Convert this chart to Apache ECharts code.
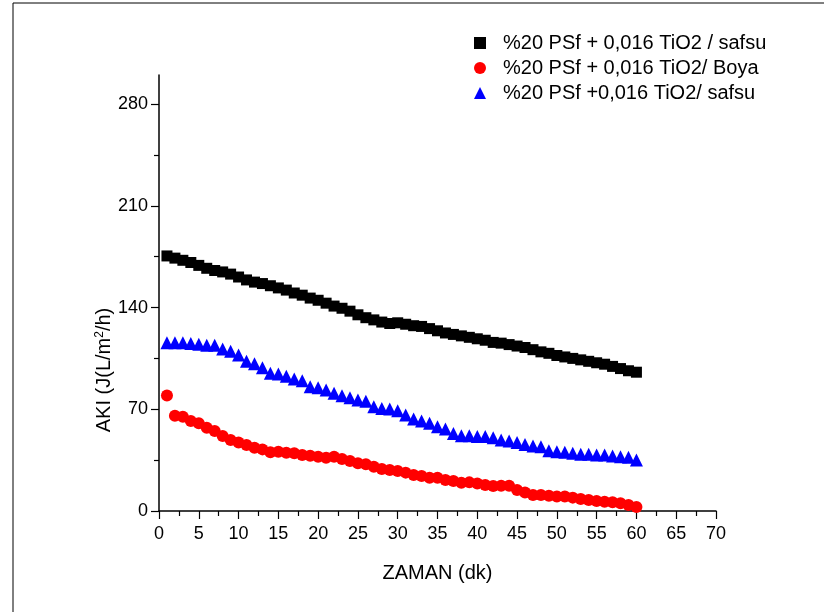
<!DOCTYPE html>
<html>
<head>
<meta charset="utf-8">
<script src="https://cdn.jsdelivr.net/npm/echarts@6/dist/echarts.min.js"></script>
<style>
  html, body { margin: 0; padding: 0; background: #fff; }
  #chart { width: 824px; height: 612px; }
</style>
</head>
<body>
<div id="chart"></div>
<script>
// time points (dk)
var zaman = [];
for (var i = 1; i <= 60; i++) zaman.push(i);

var safsuSquare = [175.5, 174, 172.5, 171, 169, 167, 165.5, 164.5, 163, 161,
  159, 157.5, 156.5, 155, 153.5, 152, 150, 148.5, 146.5, 145,
  143, 141, 139.5, 137.5, 135, 133, 131.5, 130, 129, 129.5,
  128.5, 127.5, 127, 125.5, 124, 122.5, 121.5, 120.5, 119.5, 118.5,
  117.5, 116, 115.5, 114.5, 113.5, 112.5, 111, 109.5, 108.5, 107,
  106, 105, 104, 103, 102, 101, 99.5, 98, 96.5, 95.5];

var boya = [79.5, 65.5, 64.9, 61.9, 60.3, 57.3, 55, 51.6, 48.8, 47.2,
  45.4, 43.5, 42.4, 40.4, 40.8, 40.1, 39.7, 38.5, 38, 37.3,
  36.7, 37.3, 35.8, 34.4, 32.8, 32.1, 30.5, 28.9, 28.2, 27.5,
  26.4, 24.8, 24.1, 22.9, 22.9, 21.3, 20.6, 19.5, 19.7, 19,
  17.9, 17.2, 17.4, 17.4, 14.4, 12.8, 11, 11, 10.5, 9.9,
  9.9, 9.2, 8.3, 7.6, 6.9, 6.4, 6, 5.3, 4.1, 2.8];

var safsuTriangle = [115.7, 115.7, 115.7, 115.3, 114.8, 114.1, 114.1, 111.4, 110, 107.3,
  103.1, 101.3, 98.5, 94.7, 94.2, 92.8, 90.8, 89.6, 85.5, 84.8,
  83.2, 81, 79.3, 77.9, 76.3, 75.6, 71.7, 70.6, 70.1, 69,
  66, 63.3, 61.9, 60.3, 58, 56.4, 53.4, 51.8, 51.8, 51.3,
  51.3, 50.4, 48.8, 48.1, 47.2, 45.8, 44.7, 44.2, 41.5, 40.8,
  40.4, 39.7, 39, 39, 38.5, 38.5, 37.8, 37.3, 36.9, 35.1];

var seriesNames = [
  '%20 PSf + 0,016 TiO2 / safsu',
  '%20 PSf + 0,016 TiO2/ Boya',
  '%20 PSf +0,016 TiO2/ safsu'
];
var yTicks = [0, 70, 140, 210, 280];
var yMinorTicks = [35, 105, 175, 245];

function pairs(ys) {
  return zaman.map(function (x, i) { return [x, ys[i]]; });
}

var font = 'Liberation Sans, Arial, sans-serif';
var myChart = echarts.init(document.getElementById('chart'));
myChart.setOption({
  backgroundColor: '#fff',
  animation: false,
  grid: { left: 159, right: 108, top: 75, bottom: 101 },
  legend: {
    orient: 'vertical',
    left: 469,
    top: 28,
    itemWidth: 12,
    itemHeight: 12,
    itemGap: 5,
    textStyle: { fontFamily: font, fontSize: 20, color: '#000', padding: [0, 0, 0, 12] },
    data: [
      { name: seriesNames[0], itemStyle: { color: '#000' } },
      { name: seriesNames[1] },
      { name: seriesNames[2] }
    ]
  },
  xAxis: {
    type: 'value',
    min: 0,
    max: 70,
    interval: 5,
    name: 'ZAMAN (dk)',
    nameLocation: 'middle',
    nameGap: 52,
    nameTextStyle: { fontFamily: font, fontSize: 20, color: '#000' },
    splitLine: { show: false },
    axisLine: { onZero: false, lineStyle: { color: '#000', width: 1.5 } },
    axisTick: { length: 8, lineStyle: { color: '#000', width: 1.2 } },
    minorTick: { show: true, splitNumber: 2, length: 5, lineStyle: { color: '#000', width: 1.2 } },
    axisLabel: { fontFamily: font, fontSize: 18, color: '#000', margin: 14 }
  },
  yAxis: [{
    type: 'value',
    min: 0,
    max: 300,
    splitLine: { show: false },
    axisLine: { show: true, lineStyle: { color: '#000', width: 1.5 } },
    axisTick: { length: 8, customValues: yTicks, lineStyle: { color: '#000', width: 1.2 } },
    axisLabel: { fontFamily: font, fontSize: 18, color: '#000', margin: 11, customValues: yTicks }
  }, {
    type: 'value',
    position: 'left',
    min: 0,
    max: 300,
    splitLine: { show: false },
    axisLine: { show: false },
    axisTick: { show: true, length: 5, customValues: yMinorTicks, lineStyle: { color: '#000', width: 1.2 } },
    axisLabel: { show: false }
  }],
  graphic: [{
    type: 'rect',
    silent: true,
    shape: { x: 13, y: 3, width: 830, height: 640 },
    style: { fill: null, stroke: '#000', lineWidth: 1 }
  }, {
    type: 'text',
    x: 104,
    y: 370,
    rotation: Math.PI / 2,
    style: {
      text: 'AKI (J(L/m{sup|2}/h)',
      rich: { sup: { fontSize: 12, verticalAlign: 'top', padding: [0, 0, 8, 0] } },
      font: '20px ' + font,
      fill: '#000',
      textAlign: 'center',
      textVerticalAlign: 'middle'
    }
  }],
  series: [{
    name: seriesNames[0],
    type: 'scatter',
    symbol: 'rect',
    symbolSize: 11,
    itemStyle: { color: '#000', opacity: 1 },
    data: pairs(safsuSquare)
  }, {
    name: seriesNames[1],
    type: 'scatter',
    symbol: 'circle',
    symbolSize: 12,
    itemStyle: { color: '#ff0000', opacity: 1 },
    data: pairs(boya)
  }, {
    name: seriesNames[2],
    type: 'scatter',
    symbol: 'triangle',
    symbolSize: 13,
    itemStyle: { color: '#0000ff', opacity: 1 },
    data: pairs(safsuTriangle)
  }]
});
</script>
</body>
</html>
